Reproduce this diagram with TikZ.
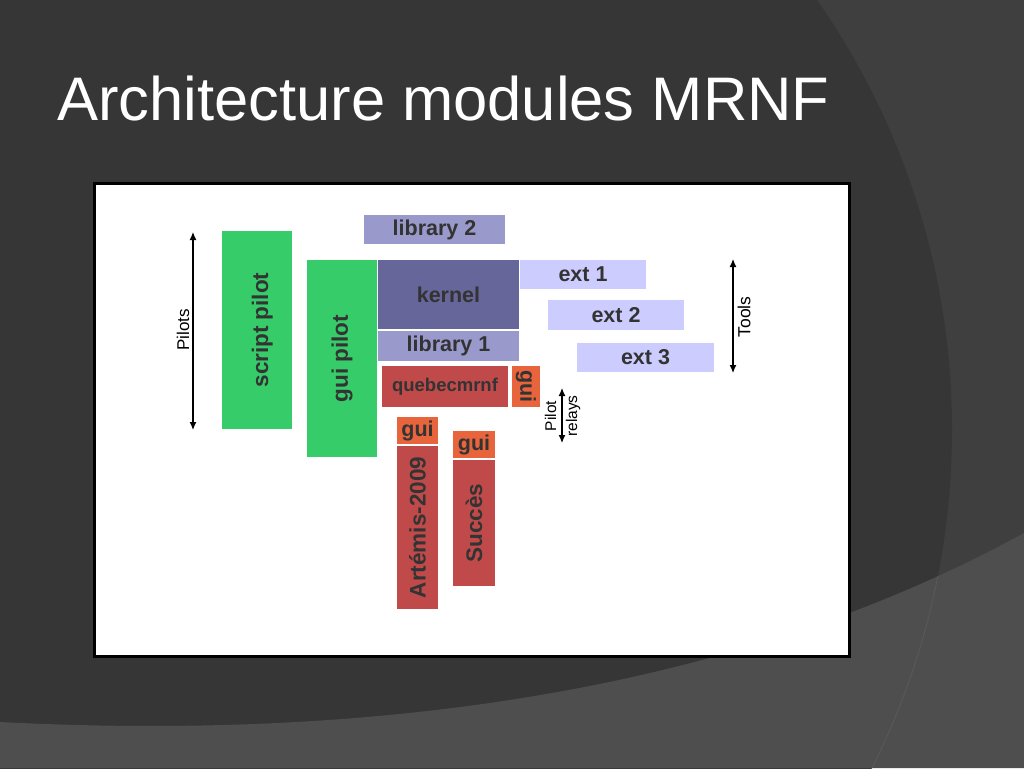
\documentclass[tikz,border=0pt]{standalone}
\usepackage{fontspec}
\setmainfont{Liberation Sans}
\usetikzlibrary{arrows.meta}
\definecolor{bgdark}{HTML}{363636}
\definecolor{bglight}{HTML}{3F3F3F}
\definecolor{bgband}{HTML}{4E4E4E}
\definecolor{bgline}{HTML}{585858}
\definecolor{lavender}{HTML}{9999CC}
\definecolor{kern}{HTML}{66669A}
\definecolor{extc}{HTML}{CCCCFF}
\definecolor{pgreen}{HTML}{35CC69}
\definecolor{pred}{HTML}{C04A4A}
\definecolor{porange}{HTML}{E8643C}
\definecolor{txt}{HTML}{333333}
\tikzset{
  blk/.style={inner sep=0pt, outer sep=0pt, text=txt, font=\bfseries\fontsize{21.5}{24}\selectfont},
  vblk/.style={blk, font=\bfseries\fontsize{22.5}{26}\selectfont},
  lbl/.style={inner sep=0pt, text=black},
  dbl/.style={{Latex[length=8pt,width=7pt]}-{Latex[length=8pt,width=7pt]}, line width=1.2pt, black}
}
\begin{document}
\begin{tikzpicture}[x=1pt,y=-1pt]
\useasboundingbox (0,0) rectangle (1024,768);
% background
\begin{scope}
\clip (0,0) rectangle (1024,768);
\fill[bglight] (0,0) rectangle (1024,768);
\fill[bgdark] (200,430) circle[radius=752];
\fill[bgband] (0,722) .. controls (350,740) and (720,700) .. (1024,533) -- (1024,768) -- (0,768) -- cycle;
\clip (0,722) .. controls (350,740) and (720,700) .. (1024,533) -- (1024,768) -- (0,768) -- cycle;
\draw[bgline, line width=1pt] (200,430) circle[radius=752];
\end{scope}
% title
\node[anchor=base west, text=white, inner sep=0pt, font=\fontsize{61.5}{70}\selectfont] (title) at (57,120) {Architecture modules MRNF};
% panel
\node[draw=black, line width=3pt, fill=white, minimum width=755, minimum height=473, inner sep=0pt] (panel) at (472,420) {};
% blocks
\node[blk, fill=lavender, minimum width=141, minimum height=29] (lib2) at (434.5,229.5) {library 2};
\node[vblk, fill=pgreen, rotate=90, minimum width=198, minimum height=70, text height=22pt, text depth=0pt] (script) at (257,330) {script pilot};
\node[vblk, fill=pgreen, rotate=90, minimum width=197, minimum height=70] (guipilot) at (342,358.5) {gui pilot};
\node[blk, fill=kern, minimum width=141, minimum height=69] (kernel) at (448.5,294.5) {kernel};
\node[blk, fill=lavender, minimum width=141, minimum height=30] (lib1) at (448.5,346) {library 1};
\node[blk, fill=pred, minimum width=126, minimum height=41, font=\bfseries\fontsize{18.5}{22}\selectfont] (quebec) at (445,386.5) {quebecmrnf};
\node[blk, fill=porange, rotate=-90, minimum width=41, minimum height=28] (guiq) at (526,386.5) {gui};
\node[blk, fill=porange, minimum width=41, minimum height=27] (guia) at (417.5,430.5) {gui};
\node[vblk, fill=pred, rotate=90, minimum width=163, minimum height=41] (artemis) at (417.5,527.5) {Artémis-2009};
\node[blk, fill=porange, minimum width=42, minimum height=27] (guis) at (474,444.5) {gui};
\node[vblk, fill=pred, rotate=90, minimum width=126, minimum height=42] (succes) at (474,523) {Succès};
\node[blk, fill=extc, minimum width=126, minimum height=29] (ext1) at (583,274.5) {ext 1};
\node[blk, fill=extc, minimum width=136, minimum height=30] (ext2) at (616,315) {ext 2};
\node[blk, fill=extc, minimum width=137, minimum height=29] (ext3) at (645.5,357.5) {ext 3};
% arrows and labels
\coordinate (pilT) at (193,232);
\coordinate (pilB) at (193,430);
\draw[dbl] (pilT) -- (pilB);
\node[lbl, rotate=90, font=\fontsize{17}{20}\selectfont] (pilots) at (183,330) {Pilots};
\coordinate (toolT) at (733,259);
\coordinate (toolB) at (733,373);
\draw[dbl] (toolT) -- (toolB);
\node[lbl, rotate=90, font=\fontsize{17.5}{20}\selectfont] (tools) at (744,317) {Tools};
\coordinate (relT) at (562,388);
\coordinate (relB) at (562,443);
\draw[dbl] (relT) -- (relB);
\node[lbl, rotate=90, align=center, font=\fontsize{15.5}{21}\selectfont] (relays) at (562.5,416) {Pilot\\relays};
\end{tikzpicture}
\end{document}
